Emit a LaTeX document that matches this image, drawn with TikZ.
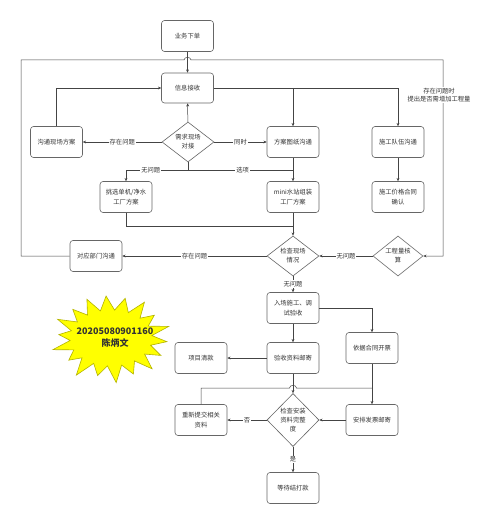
\documentclass[tikz,border=0pt]{standalone}
\usepackage{fontspec}
\setmainfont{Noto Sans CJK SC}
\usetikzlibrary{shapes.geometric,arrows.meta}
\definecolor{edgec}{HTML}{444444}
\definecolor{boxc}{HTML}{666666}
\definecolor{stary}{HTML}{FFFF00}
\definecolor{starl}{HTML}{B3B300}
\begin{document}
\begin{tikzpicture}[x=1pt,y=-1pt,
  box/.style={draw=boxc,rounded corners=3pt,minimum width=52pt,minimum height=31pt,
    align=center,text width=50pt,inner sep=1pt,line width=0.6pt,text=black!80,
    font=\fontsize{6.3}{9.5}\selectfont},
  dia/.style={draw=boxc,diamond,minimum width=52pt,minimum height=38pt,inner sep=0pt,
    align=center,line width=0.6pt,text=black!80,font=\fontsize{6.3}{9}\selectfont},
  conn/.style={draw=edgec,line width=0.5pt},
  arr/.style={conn,-{Stealth[length=3.2pt,width=2.8pt]}},
  lbl/.style={fill=white,inner sep=1pt,text=black!80,font=\fontsize{6.3}{8.5}\selectfont,align=center}]
\useasboundingbox[fill=white] (0,0) rectangle (500,524);

% nodes
\node[box] (n1) at (187.5,36) {业务下单};
\node[box,minimum height=30pt] (n2) at (187.5,88) {信息接收};
\node[dia] (d1) at (188,142) {需求现场\\对接};
\node[box] (n3) at (56.5,142) {沟通现场方案};
\node[box] (n4) at (293,142) {方案图纸沟通};
\node[box] (n5) at (398,142) {施工队伍沟通};
\node[box] (n6) at (126,197) {挑选单机/净水\\工厂方案};
\node[box] (n7) at (293,197) {mini水站组装\\工厂方案};
\node[box] (n8) at (398,197) {施工价格合同\\确认};
\node[dia] (d2) at (293,256) {检查现场\\情况};
\node[dia,minimum width=50pt] (d3) at (398,256) {工程量核\\算};
\node[box] (n9) at (96,256) {对应部门沟通};
\node[box] (n10) at (293,308) {入场施工、调\\试验收};
\node[box] (n11) at (372,348) {依据合同开票};
\node[box] (n12) at (293,358) {验收资料邮寄};
\node[box] (n13) at (201,358) {项目清款};
\node[box] (n14) at (372,420) {安排发票邮寄};
\node[dia,minimum height=53pt] (d4) at (293,420) {检查安装\\资料完整\\度};
\node[box] (n15) at (201,420) {重新提交相关\\资料};
\node[box] (n16) at (293,488) {等待结打款};

% star
\filldraw[fill=stary,draw=starl,line width=0.6pt]
  plot[samples at={0,...,35}] ({111+(mod(\x,2)==0 ? 56*(1+0.08*sin(\x*97)) : 41)*cos(\x*10+5)},
                               {338+(mod(\x,2)==0 ? 42*(1+0.08*sin(\x*97)) : 28)*sin(\x*10+5)}) -- cycle;
\node[font=\fontsize{9}{12}\selectfont\bfseries,text=black!80,align=center] (st) at (115,338)
  {20205080901160\\陈炳文};

% connectors
\draw[arr] (n1) -- (n2);
\draw[arr] (d1) -- (n2);
\draw[arr] (d1) -- node[lbl]{存在问题} (n3);
\draw[arr] (d1) -- node[lbl]{同时} (n4);
\draw[arr] (n3.north) |- (n2.west);
\draw[arr] (n2.east) -| (n5.north);
\draw[arr] (n4.north |- n2.east) -- (n4.north);
\draw[arr] (n5) -- (n8);
\draw[arr] (n4) -- (n7);
\coordinate (j1) at (188,170);
\draw[conn] (d1.south) -- (j1);
\draw[arr] (j1) -| node[lbl,pos=0.3]{无问题} (n6.north);
\draw[conn] (j1) -- node[lbl,pos=0.52]{选项} (n7.north |- j1);
\draw[conn] (n6.south) -- (126,226) -- (293,226);
\draw[arr] (n7) -- (d2);
\draw[arr] (d3) -- node[lbl]{无问题} (d2);
\draw[arr] (d2) -- node[lbl]{存在问题} (n9);
\draw[arr] (n9.west) -- (21,256) -- (21,60) -- (184,60)
  .. controls (184,56.5) and (191,56.5) .. (191,60) -- (443,60)
  -- node[lbl,pos=0.18,xshift=-4pt]{存在问题时\\提出是否需增加工程量} (443,256) -- (d3.east);
\draw[arr] (d2) -- node[lbl]{无问题} (n10);
\draw[arr] (n10.east) -| (n11.north);
\draw[arr] (n10) -- (n12);
\draw[arr] (n12) -- (n13);
\draw[arr] (n11) -- (n14);
\draw[arr] (n12) -- (d4);
\draw[arr] (n14) -- (d4);
\draw[arr] (d4) -- node[lbl]{否} (n15);
\draw[arr] (d4) -- node[lbl]{是} (n16);
\draw[conn] (n15.north) -- (201,388) -- (289.5,388)
  .. controls (289.5,384.5) and (296.5,384.5) .. (296.5,388) -- (372,388);
\end{tikzpicture}
\end{document}
